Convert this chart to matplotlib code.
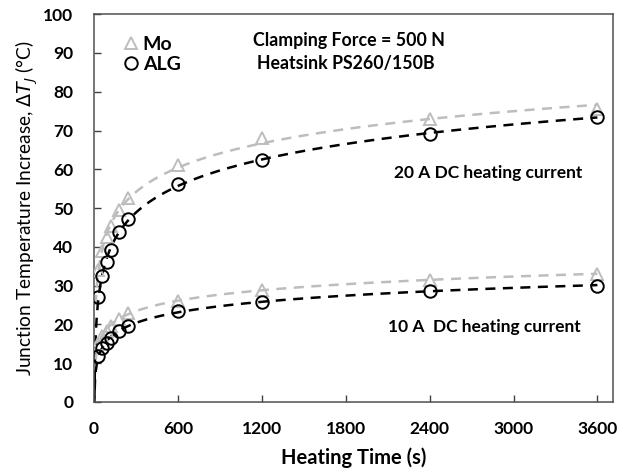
import numpy as np
import matplotlib.pyplot as plt

plt.rcParams['font.family'] = ['Lato', 'DejaVu Sans']

# heating time (s)
time_s = np.array([30, 60, 90, 120, 180, 240, 600, 1200, 2400, 3600])

# junction temperature increase (degC)
mo_20a = np.array([34.0, 39.0, 42.5, 45.5, 49.5, 52.5, 61.0, 68.0, 73.0, 75.5])
alg_20a = np.array([27.0, 32.5, 36.2, 39.3, 43.8, 47.3, 56.3, 62.5, 69.0, 73.5])
mo_10a = np.array([15.0, 17.0, 18.3, 19.5, 21.5, 23.0, 26.0, 29.0, 31.5, 33.0])
alg_10a = np.array([11.8, 14.0, 15.3, 16.5, 18.3, 19.5, 23.5, 25.8, 28.7, 30.0])

x_ticks = [0, 600, 1200, 1800, 2400, 3000, 3600]
y_ticks = list(range(0, 101, 10))

mo_color = '#bdbdbd'
alg_color = 'black'


def log_fit(t, y, t_start):
    # excel style logarithmic trendline
    a, b = np.polyfit(np.log(t), y, 1)
    tt = np.linspace(t_start, 3600, 600)
    return tt, a * np.log(tt) + b


fig = plt.figure(figsize=(6.37, 4.74), dpi=100)
ax = fig.add_axes([0.1476, 0.152, 0.8144, 0.818])

for y, col, mk, t0 in [(mo_20a, mo_color, '^', 12), (alg_20a, alg_color, 'o', 1.5),
                       (mo_10a, mo_color, '^', 12), (alg_10a, alg_color, 'o', 1.2)]:
    tt, yy = log_fit(time_s, y, t0)
    ax.plot(tt, yy, '--', color=col, lw=1.8, dashes=(4, 3), zorder=2)
    ax.plot(time_s, y, mk, mfc='none', mec=col, ms=9, mew=1.4, zorder=3)

ax.set_xlim(0, 3710)
ax.set_ylim(0, 100)
ax.set_xticks(x_ticks)
ax.set_yticks(y_ticks)
ax.tick_params(direction='in', length=5, width=1, colors='#404040', labelcolor='black',
               labelsize=12.5)
ax.tick_params(axis='y', pad=15)
ax.tick_params(axis='x', pad=14)
for lab in ax.get_xticklabels() + ax.get_yticklabels():
    lab.set_fontweight('bold')
for sp in ax.spines.values():
    sp.set_color('#505050')
    sp.set_linewidth(1.1)

ax.set_xlabel('Heating Time (s)', fontsize=14.5, fontweight='bold', labelpad=7)
ax.set_ylabel('Junction Temperature Increase, $\\mathit{\\Delta T_J}$ (°C)', fontsize=13.8, labelpad=2)

# legend
ax.plot([], [], '^', mfc='none', mec=mo_color, ms=9, mew=1.4, label='Mo')
ax.plot([], [], 'o', mfc='none', mec=alg_color, ms=9, mew=1.4, label='ALG')
h, l = ax.get_legend_handles_labels()
ax.legend(h[-2:], l[-2:], loc='upper left', frameon=False, prop={'weight': 'bold', 'size': 14},
          handletextpad=0.1, borderaxespad=0.5, labelspacing=0.15, handlelength=1.0,
          bbox_to_anchor=(0.019, 0.99))

ax.text(0.491, 0.933, 'Clamping Force = 500 N', transform=ax.transAxes, ha='center',
        va='center', fontsize=12.8, fontweight='bold')
ax.text(0.486, 0.874, 'Heatsink PS260/150B', transform=ax.transAxes, ha='center',
        va='center', fontsize=12.8, fontweight='bold')
ax.text(0.759, 0.590, '20 A DC heating current', transform=ax.transAxes, ha='center',
        va='center', fontsize=12.5, fontweight='bold')
ax.text(0.753, 0.193, '10 A  DC heating current', transform=ax.transAxes, ha='center',
        va='center', fontsize=12.5, fontweight='bold')

fig.savefig('out.png', dpi=100)
